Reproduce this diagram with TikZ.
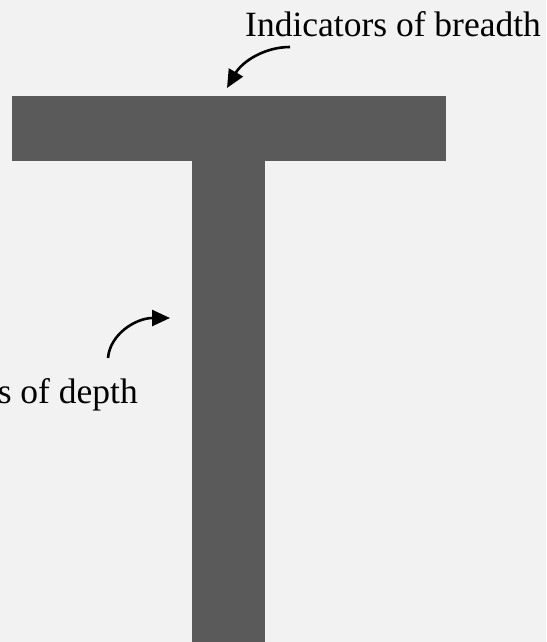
\documentclass[tikz,border=0pt]{standalone}
\usepackage{fontspec}
\setmainfont{Liberation Serif}
\usetikzlibrary{arrows.meta}
\definecolor{bgGray}{HTML}{F2F2F2}
\definecolor{barGray}{HTML}{5A5A5A}
\tikzset{
  label/.style={font=\fontsize{35.5}{42}\selectfont, text=black, inner sep=0pt},
  pointer/.style={line width=2.6pt, -{Stealth[length=18pt,width=16pt,inset=0pt]}}
}
\begin{document}
\begin{tikzpicture}[x=1pt, y=-1pt]
% frame
\clip (0,0) rectangle (546,642);
\fill[bgGray] (0,0) rectangle (546,642);
% the T shape
\fill[barGray] (12,96) rectangle (446,161);
\fill[barGray] (192,161) rectangle (265,650);
% labels
\node[label, anchor=base west] (breadth) at (245,37) {Indicators of breadth};
\node[label, anchor=base east] (depth) at (138,403) {Indicators of depth};
\coordinate (breadthTip) at (227,88);
\coordinate (depthTip) at (170,318);
% arrows
\draw[pointer] (290,47) .. controls (264,47) and (242,62) .. (breadthTip);
\draw[pointer] (108,358) .. controls (110,334) and (136,318) .. (depthTip);
\end{tikzpicture}
\end{document}
